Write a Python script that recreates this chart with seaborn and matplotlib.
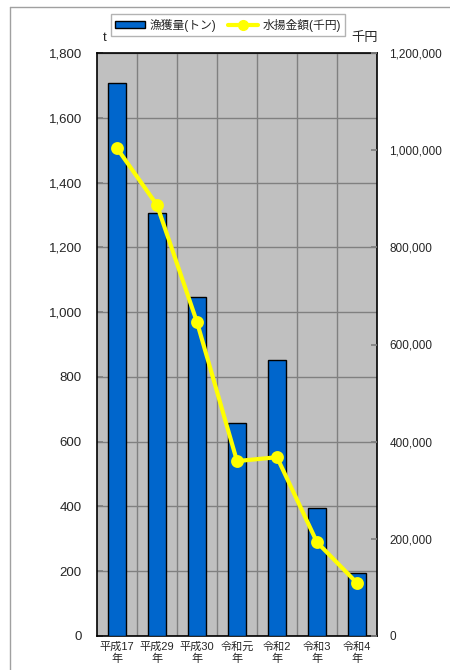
import matplotlib
matplotlib.use("Agg")
import matplotlib.pyplot as plt
import seaborn as sns
import pandas as pd
from matplotlib.lines import Line2D
from matplotlib.patches import Patch
from matplotlib.ticker import FuncFormatter, MultipleLocator

# =========================
# データ
# =========================
years = ["平成17\n年", "平成29\n年", "平成30\n年", "令和元\n年", "令和2\n年", "令和3\n年", "令和4\n年"]
catch_t = [1707, 1306, 1047, 658, 852, 395, 194]
value_kyen = [1004000, 887000, 646000, 360000, 368000, 193000, 109000]

df = pd.DataFrame({"年": years, "漁獲量": catch_t, "水揚金額": value_kyen})

sns.set_theme(style="white")
plt.rcParams["font.family"] = ["Liberation Sans", "Noto Sans CJK JP", "DejaVu Sans"]
plt.rcParams["font.size"] = 8

fig = plt.figure(figsize=(4.5, 6.7), dpi=100)
ax = fig.add_axes([97 / 450, 34 / 670, 280 / 450, 583 / 670])
ax.set_facecolor("#C0C0C0")

bar_color = "#0066CC"
line_color = "#FFFF00"

sns.barplot(data=df, x="年", y="漁獲量", color=bar_color, edgecolor="black",
            linewidth=1, width=0.43, saturation=1, ax=ax, zorder=3)

ax.set_xlim(-0.5, 6.5)
ax.set_ylim(0, 1800)
ax.yaxis.set_major_locator(MultipleLocator(200))
ax.yaxis.set_major_formatter(FuncFormatter(lambda v, p: f"{int(v):,}"))
ax.set_xticks([i + 0.5 for i in range(6)], minor=True)
ax.grid(axis="y", which="major", color="#808080", linewidth=1, zorder=0)
ax.grid(axis="x", which="minor", color="#808080", linewidth=1, zorder=0)
ax.set_axisbelow(True)
ax.set_xlabel("")
ax.set_ylabel("")
ax.tick_params(axis="y", direction="in", length=4, pad=11, labelsize=9.5, left=True, color="#808080")
ax.tick_params(axis="x", which="both", length=0, pad=4, labelsize=8)
for lbl in ax.get_xticklabels():
    lbl.set_linespacing(1.25)
for s in ax.spines.values():
    s.set_color("black")
    s.set_linewidth(1.2)

ax2 = ax.twinx()
sns.pointplot(data=df, x="年", y="水揚金額", color=line_color, markers="o",
              linestyles="-", ax=ax2, markersize=7, linewidth=3, zorder=4)
ax2.set_xlim(-0.5, 6.5)
ax2.set_ylim(0, 1200000)
ax2.yaxis.set_major_locator(MultipleLocator(200000))
ax2.yaxis.set_major_formatter(FuncFormatter(lambda v, p: f"{int(v):,}"))
ax2.set_ylabel("")
ax2.set_xlabel("")
ax2.tick_params(axis="y", direction="in", length=4, pad=9, labelsize=8.5, right=True, color="#808080")
for s in ax2.spines.values():
    s.set_visible(False)

# 単位
fig.text(105 / 450, 1 - 38 / 670, "t", ha="center", va="center", fontsize=9.5)
fig.text(365 / 450, 1 - 38 / 670, "千円", ha="center", va="center", fontsize=9.5)

# 凡例
handles = [
    Patch(facecolor=bar_color, edgecolor="black", linewidth=1),
    Line2D([0], [0], color=line_color, linewidth=3, marker="o", markersize=7),
]
leg = fig.legend(handles, ["漁獲量(トン)", "水揚金額(千円)"], loc="center",
                 bbox_to_anchor=(228 / 450, 1 - 25 / 670), ncol=2, fontsize=8.5,
                 frameon=True, fancybox=False, handlelength=2.5, handleheight=0.5,
                 columnspacing=1.0, handletextpad=0.4, borderpad=0.4)
leg.get_frame().set_edgecolor("#A0A0A0")
leg.get_frame().set_linewidth(1)

# 外枠
fig.add_artist(Line2D([10 / 450, 1], [1 - 7 / 670, 1 - 7 / 670], transform=fig.transFigure,
                      color="#A0A0A0", linewidth=1))
fig.add_artist(Line2D([10 / 450, 10 / 450], [0, 1 - 7 / 670], transform=fig.transFigure,
                      color="#A0A0A0", linewidth=1))

fig.savefig("out.png", dpi=100)
